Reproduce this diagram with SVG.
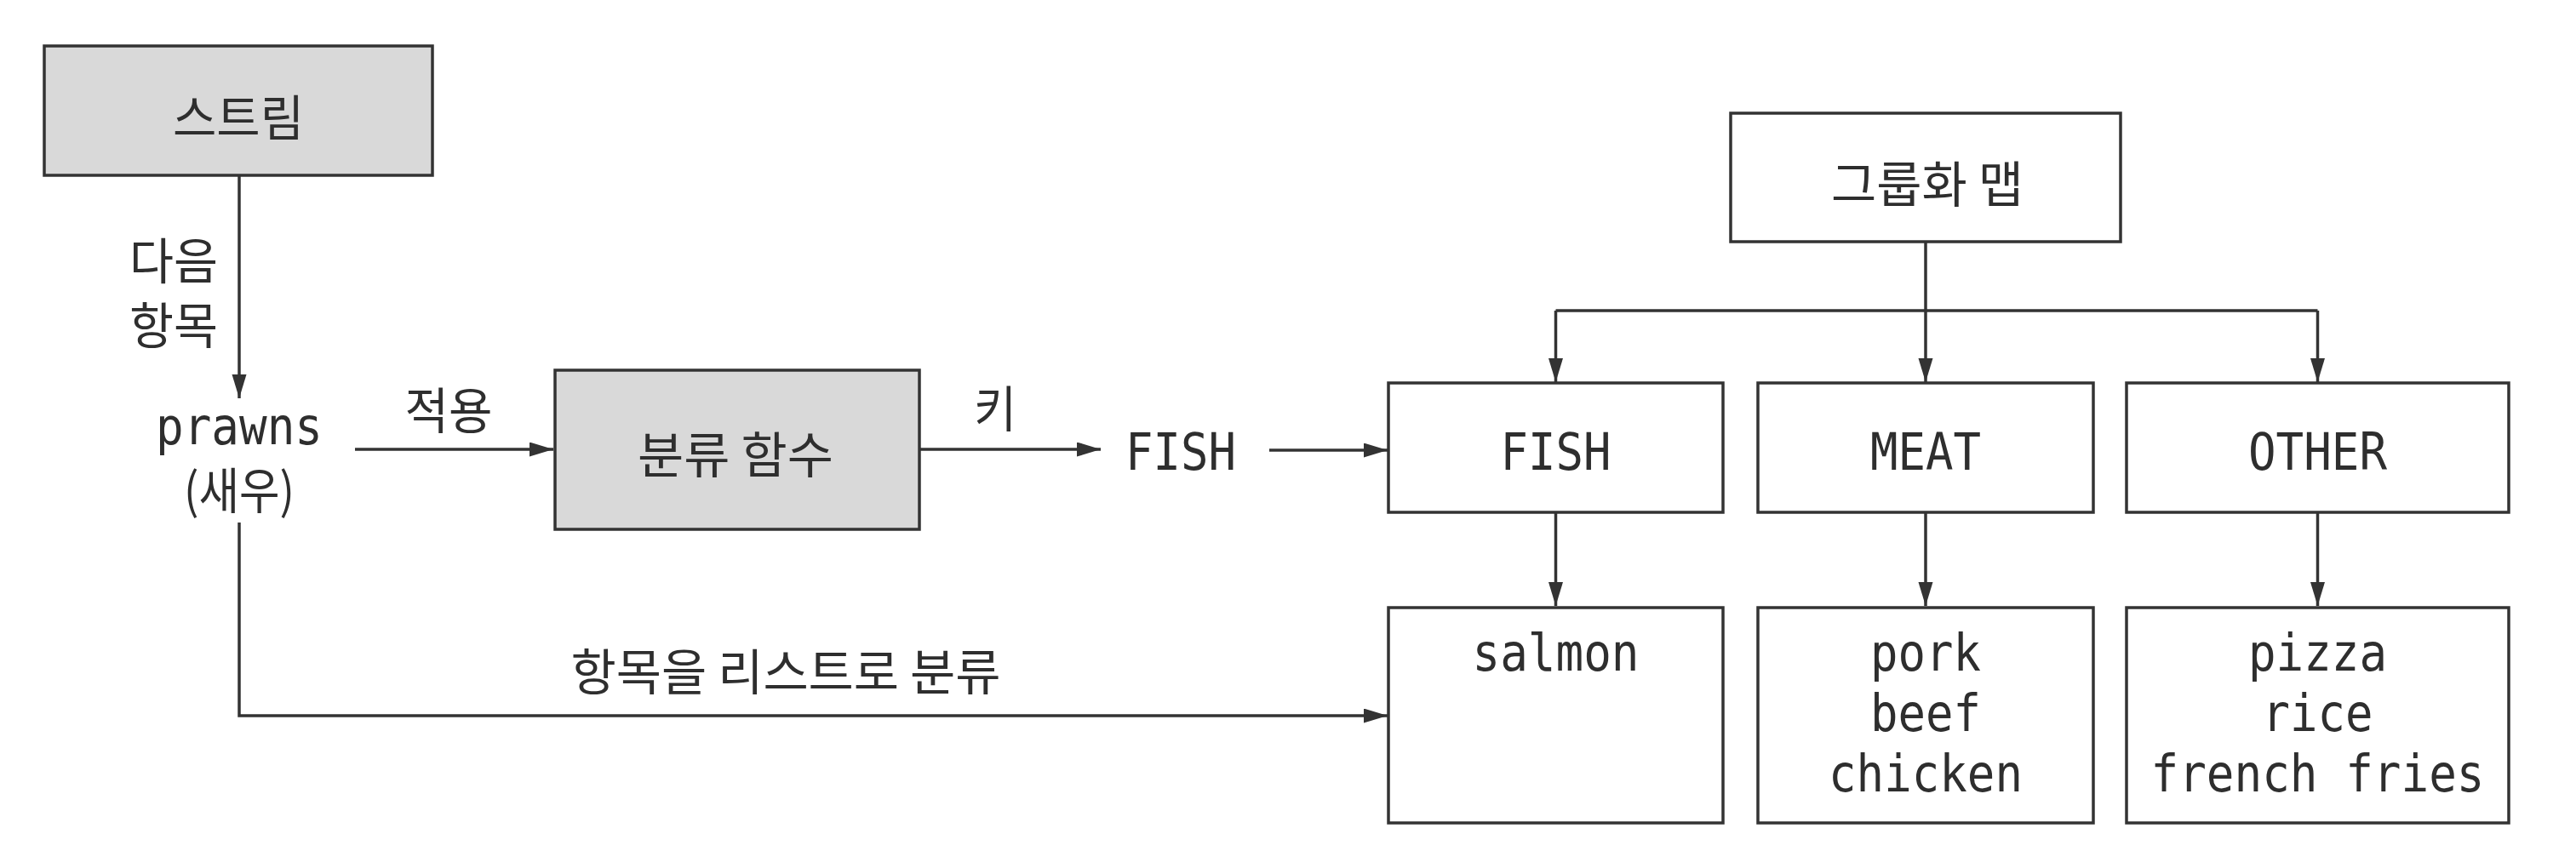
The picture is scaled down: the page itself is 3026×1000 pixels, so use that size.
<svg xmlns="http://www.w3.org/2000/svg" width="3026" height="1000" viewBox="0 0 3026 1000">
<style>
.box{fill:#ffffff;stroke:#333333;stroke-width:3.5}
.gray{fill:#d9d9d9}
.ko{font-family:"Noto Sans CJK KR","Noto Sans",sans-serif;font-size:58px;fill:#2e2e2e;text-anchor:middle;dominant-baseline:central}
.mono{font-family:"DejaVu Sans Mono","Liberation Mono",monospace;font-size:60px;fill:#2e2e2e;text-anchor:middle}
.conn{fill:none;stroke:#333333;stroke-width:3.5}
</style>
<defs>
<marker id="arr" markerUnits="userSpaceOnUse" markerWidth="30" markerHeight="18" refX="28" refY="8.5" orient="auto">
<path d="M0,0 L28,8.5 L0,17 z" fill="#333333"/>
</marker>
</defs>
<rect width="3026" height="1000" fill="#ffffff"/>

<g id="connectors">
<path class="conn" d="M281 206 V468" marker-end="url(#arr)"/>
<path class="conn" d="M281 614 V841 H1630" marker-end="url(#arr)"/>
<path class="conn" d="M417 528 H650" marker-end="url(#arr)"/>
<path class="conn" d="M1080 528 H1293" marker-end="url(#arr)"/>
<path class="conn" d="M1491 529 H1630" marker-end="url(#arr)"/>
<path class="conn" d="M2262 284 V365"/>
<path class="conn" d="M1827.5 365 H2722.5"/>
<path class="conn" d="M1827.5 365 V449" marker-end="url(#arr)"/>
<path class="conn" d="M2262 365 V449" marker-end="url(#arr)"/>
<path class="conn" d="M2722.5 365 V449" marker-end="url(#arr)"/>
<path class="conn" d="M1827.5 602 V712" marker-end="url(#arr)"/>
<path class="conn" d="M2262 602 V712" marker-end="url(#arr)"/>
<path class="conn" d="M2722.5 602 V712" marker-end="url(#arr)"/>
<text class="ko" x="204" y="303" textLength="104" lengthAdjust="spacingAndGlyphs">다음</text>
<text class="ko" x="204" y="379" textLength="104" lengthAdjust="spacingAndGlyphs">항목</text>
<text class="ko" x="527" y="479" textLength="103" lengthAdjust="spacingAndGlyphs">적용</text>
<text class="ko" x="1169" y="477" textLength="50" lengthAdjust="spacingAndGlyphs">키</text>
<text class="ko" x="923" y="786" textLength="505" lengthAdjust="spacingAndGlyphs">항목을 리스트로 분류</text>
</g>

<g id="stream">
<rect class="box gray" x="52" y="54" width="456" height="152"/>
<text class="ko" x="280" y="135" textLength="154" lengthAdjust="spacingAndGlyphs">스트림</text>
</g>

<g id="prawns">
<text class="mono" x="281" y="522" textLength="196" lengthAdjust="spacingAndGlyphs">prawns</text>
<text class="ko" x="281" y="573" textLength="130" lengthAdjust="spacingAndGlyphs">(새우)</text>
</g>

<g id="classifier">
<rect class="box gray" x="652" y="435" width="428" height="187"/>
<text class="ko" x="864" y="531" textLength="230" lengthAdjust="spacingAndGlyphs">분류 함수</text>
</g>

<g id="key">
<text class="mono" x="1387" y="552" textLength="130" lengthAdjust="spacingAndGlyphs">FISH</text>
</g>

<g id="groupmap">
<rect class="box" x="2033" y="133" width="458" height="151"/>
<text class="ko" x="2264" y="213" textLength="226" lengthAdjust="spacingAndGlyphs">그룹화 맵</text>
</g>

<g id="fish">
<rect class="box" x="1631" y="450" width="393" height="152"/>
<text class="mono" x="1827.5" y="552" textLength="130" lengthAdjust="spacingAndGlyphs">FISH</text>
</g>
<g id="meat">
<rect class="box" x="2065" y="450" width="394" height="152"/>
<text class="mono" x="2262" y="552" textLength="130" lengthAdjust="spacingAndGlyphs">MEAT</text>
</g>
<g id="other">
<rect class="box" x="2498" y="450" width="449" height="152"/>
<text class="mono" x="2722.5" y="552" textLength="163" lengthAdjust="spacingAndGlyphs">OTHER</text>
</g>

<g id="fish-list">
<rect class="box" x="1631" y="714" width="393" height="253"/>
<text class="mono" x="1827.5" y="788" textLength="196" lengthAdjust="spacingAndGlyphs">salmon</text>
</g>
<g id="meat-list">
<rect class="box" x="2065" y="714" width="394" height="253"/>
<text class="mono" x="2262" y="788" textLength="130" lengthAdjust="spacingAndGlyphs">pork</text>
<text class="mono" x="2262" y="859" textLength="130" lengthAdjust="spacingAndGlyphs">beef</text>
<text class="mono" x="2262" y="930" textLength="228" lengthAdjust="spacingAndGlyphs">chicken</text>
</g>
<g id="other-list">
<rect class="box" x="2498" y="714" width="449" height="253"/>
<text class="mono" x="2722.5" y="788" textLength="163" lengthAdjust="spacingAndGlyphs">pizza</text>
<text class="mono" x="2722.5" y="859" textLength="130" lengthAdjust="spacingAndGlyphs">rice</text>
<text class="mono" x="2722.5" y="930" textLength="392" lengthAdjust="spacingAndGlyphs">french fries</text>
</g>
</svg>
